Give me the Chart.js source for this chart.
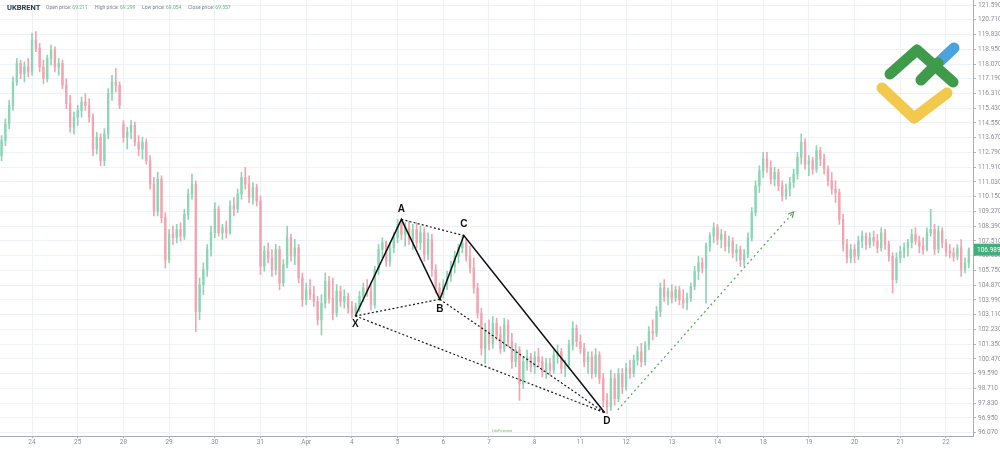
<!DOCTYPE html>
<html>
<head>
<meta charset="utf-8">
<script src="https://cdn.jsdelivr.net/npm/chart.js@4.4.0/dist/chart.umd.min.js"></script>
<style>
  html, body { margin: 0; padding: 0; background: #fff; }
  #wrap { width: 1000px; height: 449px; position: relative; }
</style>
</head>
<body>
<div id="wrap"><canvas id="brentChart"></canvas></div>
<script>
// Etiquetas de días (una cada 12 velas)
const dayLabels = ['24', '25', '28', '29', '30', '31', 'Apr', '4', '5', '6', '7', '8', '11', '12', '13', '14', '18', '19', '20', '21', '22'];

// Precios del eje Y
const priceTicks = [96.07, 96.95, 97.83, 98.71, 99.59, 100.47, 101.35, 102.23, 103.11, 103.99, 104.87, 105.75,
  106.63, 107.51, 108.39, 109.27, 110.15, 111.03, 111.91, 112.79, 113.67, 114.55, 115.43, 116.31, 117.19,
  118.07, 118.95, 119.83, 120.71, 121.59];

// Velas (OHLC)
const opens = [
  112.6, 113.5, 114.5, 115.6, 117.0, 118.1, 117.5, 117.9,
  117.6, 119.5, 119.0, 117.9, 117.2, 118.4, 118.9, 117.9, 118.1, 116.8, 115.7, 114.3,
  114.9, 115.3, 115.8, 115.6, 114.9, 113.0, 113.7, 112.3, 113.9, 116.3, 117.0, 116.8,
  114.5, 113.7, 114.0, 114.4, 113.4, 113.0, 113.4, 112.3, 110.9, 109.3, 111.2, 108.9,
  106.4, 107.9, 107.7, 108.2, 107.8, 109.1, 110.3, 110.9, 103.3, 104.9, 105.8, 107.0,
  108.0, 109.4, 108.0, 108.3, 108.0, 109.6, 109.4, 110.3, 111.3, 110.9, 110.1, 110.7,
  109.9, 106.0, 106.9, 106.5, 105.8, 107.0, 105.0, 106.1, 107.7, 106.6, 107.1, 105.3,
  104.0, 104.6, 104.3, 103.9, 102.8, 103.8, 105.1, 104.1, 103.2, 104.5, 103.9, 104.2,
  103.5, 103.2, 103.6, 104.2, 104.7, 104.5, 103.7, 105.8, 107.0, 107.4, 106.3, 107.1,
  107.7, 108.5, 107.9, 108.3, 107.6, 108.2, 107.4, 108.0, 106.7, 107.6, 105.8, 104.7,
  104.3, 104.9, 105.4, 106.0, 106.6, 107.1, 107.4, 106.6, 105.9, 104.7, 103.2, 101.1,
  102.2, 101.4, 102.6, 101.9, 101.1, 102.5, 101.5, 100.3, 101.0, 99.0, 100.3, 100.6,
  100.0, 100.6, 100.3, 99.7, 100.2, 99.8, 100.7, 100.9, 99.9, 100.1, 101.3, 102.3,
  101.5, 101.1, 100.3, 100.6, 99.6, 100.7, 99.3, 98.0, 97.6, 99.3, 98.1, 99.6,
  98.8, 99.9, 99.6, 100.4, 100.9, 100.3, 101.3, 102.1, 102.0, 103.3, 104.7, 104.2,
  104.5, 104.1, 104.6, 104.0, 103.8, 104.1, 104.8, 105.7, 106.2, 105.9, 107.2, 107.8,
  108.3, 107.6, 107.9, 107.2, 107.5, 106.8, 107.0, 106.4, 106.7, 107.7, 109.2, 110.8,
  111.7, 112.4, 111.9, 111.2, 111.6, 110.8, 110.2, 110.6, 111.0, 111.5, 112.5, 113.4,
  112.1, 112.3, 111.8, 112.9, 112.4, 111.8, 111.1, 110.6, 110.4, 108.8, 107.3, 106.5,
  107.0, 106.6, 107.5, 107.8, 107.3, 107.7, 107.5, 107.1, 108.0, 107.3, 106.6, 105.2,
  106.5, 106.9, 107.1, 107.4, 107.9, 107.5, 107.2, 107.0, 108.0, 108.2, 107.0, 108.1,
  107.4, 106.9, 106.8, 106.6, 107.1, 105.8, 106.2
];
const highs = [
  113.8, 114.8, 115.9, 117.3, 118.4, 118.3, 118.2, 118.4,
  119.9, 120.0, 119.3, 118.3, 118.6, 119.2, 119.1, 118.4, 118.3, 117.2, 116.2, 115.2,
  115.6, 116.1, 116.3, 116.0, 115.1, 114.0, 113.9, 114.2, 116.6, 117.4, 117.8, 117.0,
  114.7, 114.3, 114.7, 114.6, 113.8, 113.7, 113.6, 112.6, 111.3, 111.6, 111.4, 109.2,
  108.2, 108.4, 108.5, 108.6, 109.4, 110.6, 111.5, 111.1, 105.3, 106.2, 107.3, 108.4,
  109.8, 109.6, 108.5, 108.7, 109.9, 110.1, 110.6, 111.6, 111.9, 111.4, 111.0, 110.9,
  110.2, 107.2, 107.4, 107.0, 107.3, 107.2, 106.4, 108.4, 107.9, 107.6, 107.3, 105.6,
  105.0, 105.2, 104.8, 104.2, 104.3, 105.6, 105.4, 105.3, 104.9, 104.8, 104.6, 104.4,
  103.9, 103.8, 104.5, 105.0, 105.2, 105.0, 106.0, 107.3, 107.7, 107.5, 107.4, 108.0,
  108.8, 108.8, 108.6, 108.7, 108.5, 108.6, 108.4, 108.3, 108.0, 107.9, 106.1, 105.0,
  105.2, 105.7, 106.3, 106.9, 107.3, 107.8, 107.6, 107.2, 106.5, 105.0, 103.5, 102.6,
  102.8, 103.0, 102.9, 102.4, 102.9, 102.8, 102.0, 101.4, 101.2, 100.6, 101.0, 100.8,
  100.9, 101.1, 100.6, 100.5, 100.5, 101.0, 101.3, 101.1, 100.4, 101.6, 102.7, 102.5,
  101.9, 101.4, 100.9, 100.9, 101.1, 100.9, 99.6, 98.4, 99.8, 99.6, 99.9, 99.9,
  100.2, 100.4, 100.7, 101.2, 101.4, 101.5, 102.4, 102.8, 103.6, 105.0, 105.2, 104.7,
  104.9, 104.8, 104.8, 104.6, 104.4, 105.0, 106.0, 106.6, 106.5, 107.4, 108.0, 108.6,
  108.5, 108.2, 108.1, 107.8, 107.7, 107.3, 107.2, 107.0, 108.0, 109.5, 111.1, 112.0,
  112.8, 112.8, 112.3, 111.9, 111.8, 111.1, 110.9, 111.3, 111.8, 112.8, 113.9, 113.6,
  112.6, 112.5, 113.2, 113.1, 112.7, 112.0, 111.6, 111.1, 110.6, 109.1, 107.6, 107.3,
  107.3, 107.8, 108.1, 108.0, 108.0, 108.1, 107.9, 108.3, 108.2, 107.5, 106.8, 106.8,
  107.2, 107.4, 107.6, 108.2, 108.3, 107.8, 107.7, 108.3, 109.4, 108.5, 108.4, 108.3,
  107.6, 107.3, 107.1, 107.3, 107.6, 106.5, 107.1
];
const lows = [
  112.3, 113.2, 114.2, 115.3, 116.8, 117.2, 117.0, 117.3,
  117.4, 118.8, 117.6, 116.9, 117.0, 118.0, 117.6, 117.4, 116.6, 115.4, 114.0, 113.9,
  114.4, 114.9, 115.3, 114.6, 112.6, 112.7, 112.0, 112.0, 113.6, 115.9, 116.4, 115.4,
  113.4, 113.0, 113.6, 113.2, 112.6, 112.4, 112.1, 110.6, 109.0, 109.0, 108.6, 105.9,
  106.2, 107.3, 107.4, 107.5, 107.6, 108.8, 110.0, 102.1, 102.8, 104.3, 105.4, 106.6,
  107.7, 107.8, 107.6, 107.7, 107.9, 109.0, 109.2, 110.0, 110.6, 109.8, 109.7, 109.6,
  105.5, 105.7, 106.2, 105.4, 105.5, 104.6, 104.8, 105.9, 106.3, 106.1, 105.0, 103.6,
  103.7, 104.0, 103.6, 102.5, 101.9, 103.5, 103.8, 102.8, 103.0, 103.6, 103.5, 103.2,
  102.9, 103.0, 103.3, 103.9, 104.2, 103.4, 103.5, 105.5, 106.5, 106.0, 106.0, 106.8,
  107.4, 107.6, 107.2, 107.3, 107.0, 107.1, 107.0, 106.3, 106.4, 105.4, 104.4, 104.0,
  104.1, 104.6, 105.1, 105.6, 106.2, 106.8, 106.3, 105.6, 104.4, 102.9, 100.7, 100.2,
  101.0, 101.1, 101.6, 100.8, 100.9, 101.2, 99.9, 100.0, 98.0, 98.7, 99.8, 99.7,
  99.6, 100.0, 99.4, 99.3, 99.5, 99.6, 100.2, 99.6, 99.4, 99.9, 101.0, 101.2,
  100.8, 100.0, 99.6, 99.3, 99.4, 99.0, 97.6, 97.2, 97.4, 97.7, 97.9, 98.4,
  98.6, 99.3, 99.4, 100.1, 100.0, 100.1, 101.0, 101.6, 101.8, 103.0, 103.9, 103.7,
  103.8, 103.9, 103.7, 103.5, 103.4, 103.9, 104.6, 105.2, 105.6, 103.8, 106.9, 107.4,
  107.3, 107.1, 106.9, 106.8, 106.5, 106.3, 106.0, 106.0, 106.5, 107.5, 109.0, 110.4,
  111.3, 111.6, 110.9, 110.8, 110.5, 109.9, 110.0, 110.2, 110.7, 111.2, 112.1, 111.8,
  111.4, 111.5, 111.6, 112.0, 111.5, 110.8, 110.3, 109.8, 108.5, 106.9, 106.2, 106.2,
  106.2, 106.4, 107.1, 107.0, 107.1, 107.2, 106.8, 106.9, 107.0, 106.3, 104.4, 105.0,
  106.2, 106.5, 106.6, 107.1, 107.3, 106.8, 106.7, 106.9, 107.8, 106.7, 106.8, 107.1,
  106.6, 106.5, 106.3, 106.4, 105.4, 105.6, 105.9
];
const closes = [
  113.5, 114.5, 115.6, 117.0, 118.1, 117.5, 117.9, 117.6,
  119.5, 119.0, 117.9, 117.2, 118.4, 118.9, 117.9, 118.1, 116.8, 115.7, 114.3, 114.9,
  115.3, 115.8, 115.6, 114.9, 113.0, 113.7, 112.3, 113.9, 116.3, 117.0, 116.8, 115.6,
  113.7, 114.0, 114.4, 113.4, 113.0, 113.4, 112.3, 110.9, 109.3, 111.2, 108.9, 106.4,
  107.9, 107.7, 108.2, 107.8, 109.1, 110.3, 110.9, 103.3, 104.9, 105.8, 107.0, 108.0,
  109.4, 108.0, 108.3, 108.0, 109.6, 109.4, 110.3, 111.3, 110.9, 110.1, 110.7, 109.9,
  106.0, 106.9, 106.5, 105.8, 107.0, 105.0, 106.1, 107.7, 106.6, 107.1, 105.3, 104.0,
  104.6, 104.3, 103.9, 102.8, 103.8, 105.1, 104.1, 103.2, 104.5, 103.9, 104.2, 103.5,
  103.2, 103.6, 104.2, 104.7, 104.5, 103.7, 105.8, 107.0, 107.4, 106.3, 107.1, 107.7,
  108.5, 107.9, 108.3, 107.6, 108.2, 107.4, 108.0, 106.7, 107.6, 105.8, 104.7, 104.3,
  104.9, 105.4, 106.0, 106.6, 107.1, 107.4, 106.6, 105.9, 104.7, 103.2, 101.1, 102.2,
  101.4, 102.6, 101.9, 101.1, 102.5, 101.5, 100.3, 101.0, 99.0, 100.3, 100.6, 100.0,
  100.6, 100.3, 99.7, 100.2, 99.8, 100.7, 100.9, 99.9, 100.1, 101.3, 102.3, 101.5,
  101.1, 100.3, 100.6, 99.6, 100.7, 99.3, 98.0, 97.6, 99.3, 98.1, 99.6, 98.8,
  99.9, 99.6, 100.4, 100.9, 100.3, 101.3, 102.1, 102.0, 103.3, 104.7, 104.2, 104.5,
  104.1, 104.6, 104.0, 103.8, 104.1, 104.8, 105.7, 106.2, 105.9, 107.2, 107.8, 108.3,
  107.6, 107.9, 107.2, 107.5, 106.8, 107.0, 106.4, 106.7, 107.7, 109.2, 110.8, 111.7,
  112.4, 111.9, 111.2, 111.6, 110.8, 110.2, 110.6, 111.0, 111.5, 112.5, 113.4, 112.1,
  112.3, 111.8, 112.9, 112.4, 111.8, 111.1, 110.6, 110.4, 108.8, 107.3, 106.5, 107.0,
  106.6, 107.5, 107.8, 107.3, 107.7, 107.5, 107.1, 108.0, 107.3, 106.6, 105.2, 106.5,
  106.9, 107.1, 107.4, 107.9, 107.5, 107.2, 107.0, 108.0, 108.2, 107.0, 108.1, 107.4,
  106.9, 106.8, 106.6, 107.1, 105.8, 106.2, 106.989
];

// Patrón XABCD (x en velas, y en precio)
const patternNames = ['X', 'A', 'B', 'C', 'D'];
const patternX = [84.9, 97.0, 107.1, 113.4, 150.4];
const patternY = [103.03, 108.8, 104.03, 107.83, 97.26];
// Proyección (flecha verde)
const arrowX = [153.8, 200.0];
const arrowY = [97.43, 109.24];

// Cabecera
const headerItems = [['Open price:', '69.211'], ['High price:', '69.299'], ['Low price:', '69.054'], ['Close price:', '69.357']];

const firstBar = -8;
const UP = '#8ed5b5';
const DOWN = '#f2a5b0';

const wickData = highs.map((h, i) => ({ x: firstBar + i, y: [lows[i], h] }));
const bodyData = opens.map((o, i) => ({ x: firstBar + i, y: [o, closes[i]] }));
const barColors = opens.map((o, i) => closes[i] >= o ? UP : DOWN);

const pt = k => ({ x: patternX[k], y: patternY[k] });
const dotted = (a, b) => ({
  type: 'line',
  data: [pt(a), pt(b)],
  borderColor: '#1a1a1a',
  borderWidth: 1.2,
  borderDash: [2, 2.2],
  pointRadius: 0,
  order: 0
});

const overlay = {
  id: 'overlay',
  afterDatasetsDraw(chart) {
    const ctx = chart.ctx;
    const xs = chart.scales.x, ys = chart.scales.y;
    ctx.save();

    // Punta de flecha verde
    const x1 = xs.getPixelForValue(arrowX[0]), y1 = ys.getPixelForValue(arrowY[0]);
    const x2 = xs.getPixelForValue(arrowX[1]), y2 = ys.getPixelForValue(arrowY[1]);
    const ang = Math.atan2(y2 - y1, x2 - x1);
    ctx.strokeStyle = '#55a455';
    ctx.lineWidth = 1.2;
    ctx.beginPath();
    ctx.moveTo(x2 - 6 * Math.cos(ang - 0.5), y2 - 6 * Math.sin(ang - 0.5));
    ctx.lineTo(x2, y2);
    ctx.lineTo(x2 - 6 * Math.cos(ang + 0.5), y2 - 6 * Math.sin(ang + 0.5));
    ctx.stroke();

    // Letras del patrón
    const dx = [0, 0, 0, 0, 2];
    const dy = [8, -10, 10, -11, 9];
    ctx.font = 'bold 10px "Liberation Sans", Arial, sans-serif';
    ctx.fillStyle = '#111';
    ctx.textAlign = 'center';
    ctx.textBaseline = 'middle';
    patternNames.forEach((n, k) => {
      ctx.fillText(n, xs.getPixelForValue(patternX[k]) + dx[k], ys.getPixelForValue(patternY[k]) + dy[k]);
    });

    // Precio actual
    const last = closes[closes.length - 1];
    const py = ys.getPixelForValue(last);
    ctx.fillStyle = '#45ad7c';
    ctx.fillRect(974, py - 6, 26, 12);
    ctx.fillStyle = '#fff';
    ctx.font = '6.5px Roboto, sans-serif';
    ctx.textAlign = 'left';
    ctx.fillText(last.toFixed(3), 977, py + 0.5);

    // Cabecera
    ctx.textBaseline = 'middle';
    ctx.fillStyle = '#2f3a4a';
    ctx.font = 'bold 7.5px Roboto, sans-serif';
    ctx.fillText('UKBRENT', 7, 8);
    const hx = [46, 95, 142, 188];
    ctx.font = '5px Roboto, sans-serif';
    headerItems.forEach(([lab, val], k) => {
      ctx.fillStyle = '#7b818c';
      ctx.fillText(lab, hx[k], 8);
      const w = ctx.measureText(lab + ' ').width;
      ctx.fillStyle = '#5cb88a';
      ctx.fillText(val, hx[k] + w, 8);
    });

    // Marca de agua pequeña
    ctx.fillStyle = '#7ab55c';
    ctx.font = 'italic 4px Roboto, sans-serif';
    ctx.fillText('LiteFinance', 492, 431);

    // Logo
    ctx.lineCap = 'round';
    ctx.lineJoin = 'round';
    ctx.lineWidth = 11;
    ctx.strokeStyle = '#f2c94c';
    ctx.beginPath();
    ctx.moveTo(882, 88); ctx.lineTo(914, 118); ctx.lineTo(947, 93);
    ctx.stroke();
    ctx.strokeStyle = '#4aa3df';
    ctx.beginPath();
    ctx.moveTo(938, 63); ctx.lineTo(954, 48);
    ctx.stroke();
    ctx.strokeStyle = '#3f9a4a';
    ctx.beginPath();
    ctx.moveTo(890, 74); ctx.lineTo(917, 50); ctx.lineTo(953, 82);
    ctx.stroke();
    ctx.beginPath();
    ctx.moveTo(921, 80); ctx.lineTo(938, 63);
    ctx.stroke();

    ctx.restore();
  }
};

const ctx = document.getElementById('brentChart').getContext('2d');
new Chart(ctx, {
  type: 'bar',
  data: {
    datasets: [
      {
        type: 'line',
        data: [pt(0), pt(1), pt(2), pt(3), pt(4)],
        borderColor: '#111',
        borderWidth: 1.5,
        pointRadius: 0,
        tension: 0,
        order: 0
      },
      dotted(0, 2),
      dotted(1, 3),
      dotted(2, 4),
      dotted(0, 4),
      {
        type: 'line',
        data: [{ x: arrowX[0], y: arrowY[0] }, { x: arrowX[1], y: arrowY[1] }],
        borderColor: '#55a455',
        borderWidth: 1.2,
        borderDash: [2, 3],
        pointRadius: 0,
        order: 0
      },
      {
        data: bodyData,
        backgroundColor: barColors,
        borderWidth: 0,
        barThickness: 1.7,
        minBarLength: 1,
        grouped: false,
        order: 1
      },
      {
        data: wickData,
        backgroundColor: barColors,
        borderWidth: 0,
        barThickness: 1,
        grouped: false,
        order: 2
      }
    ]
  },
  options: {
    responsive: true,
    maintainAspectRatio: false,
    animation: false,
    layout: { padding: 0, autoPadding: false },
    plugins: {
      legend: { display: false },
      tooltip: { enabled: false }
    },
    scales: {
      x: {
        type: 'linear',
        min: -8.41,
        max: 247.1,
        offset: false,
        afterBuildTicks: s => { s.ticks = dayLabels.map((_, i) => ({ value: i * 12 })); },
        afterFit: s => { s.height = 13; s.paddingLeft = 0; s.paddingRight = 0; },
        ticks: {
          autoSkip: false,
          maxRotation: 0,
          padding: 0,
          color: '#8c8f96',
          font: { family: 'Roboto', size: 6.5 },
          callback: v => dayLabels[Math.round(v / 12)]
        },
        grid: { color: '#eef1f5', tickColor: '#b0b4ba', tickLength: 2, offset: false },
        border: { color: '#a9adb3' }
      },
      y: {
        position: 'right',
        min: 95.87,
        max: 121.89,
        afterBuildTicks: s => { s.ticks = priceTicks.map(v => ({ value: v })); },
        afterFit: s => { s.width = 27; s.paddingTop = 0; s.paddingBottom = 0; },
        ticks: {
          padding: 2,
          color: '#8c8f96',
          font: { family: 'Roboto', size: 6.5 },
          callback: v => Number(v).toFixed(3)
        },
        grid: { color: '#eef1f5', tickColor: '#b0b4ba', tickLength: 3 },
        border: { color: '#a9adb3' }
      }
    }
  },
  plugins: [overlay]
});
</script>
</body>
</html>
